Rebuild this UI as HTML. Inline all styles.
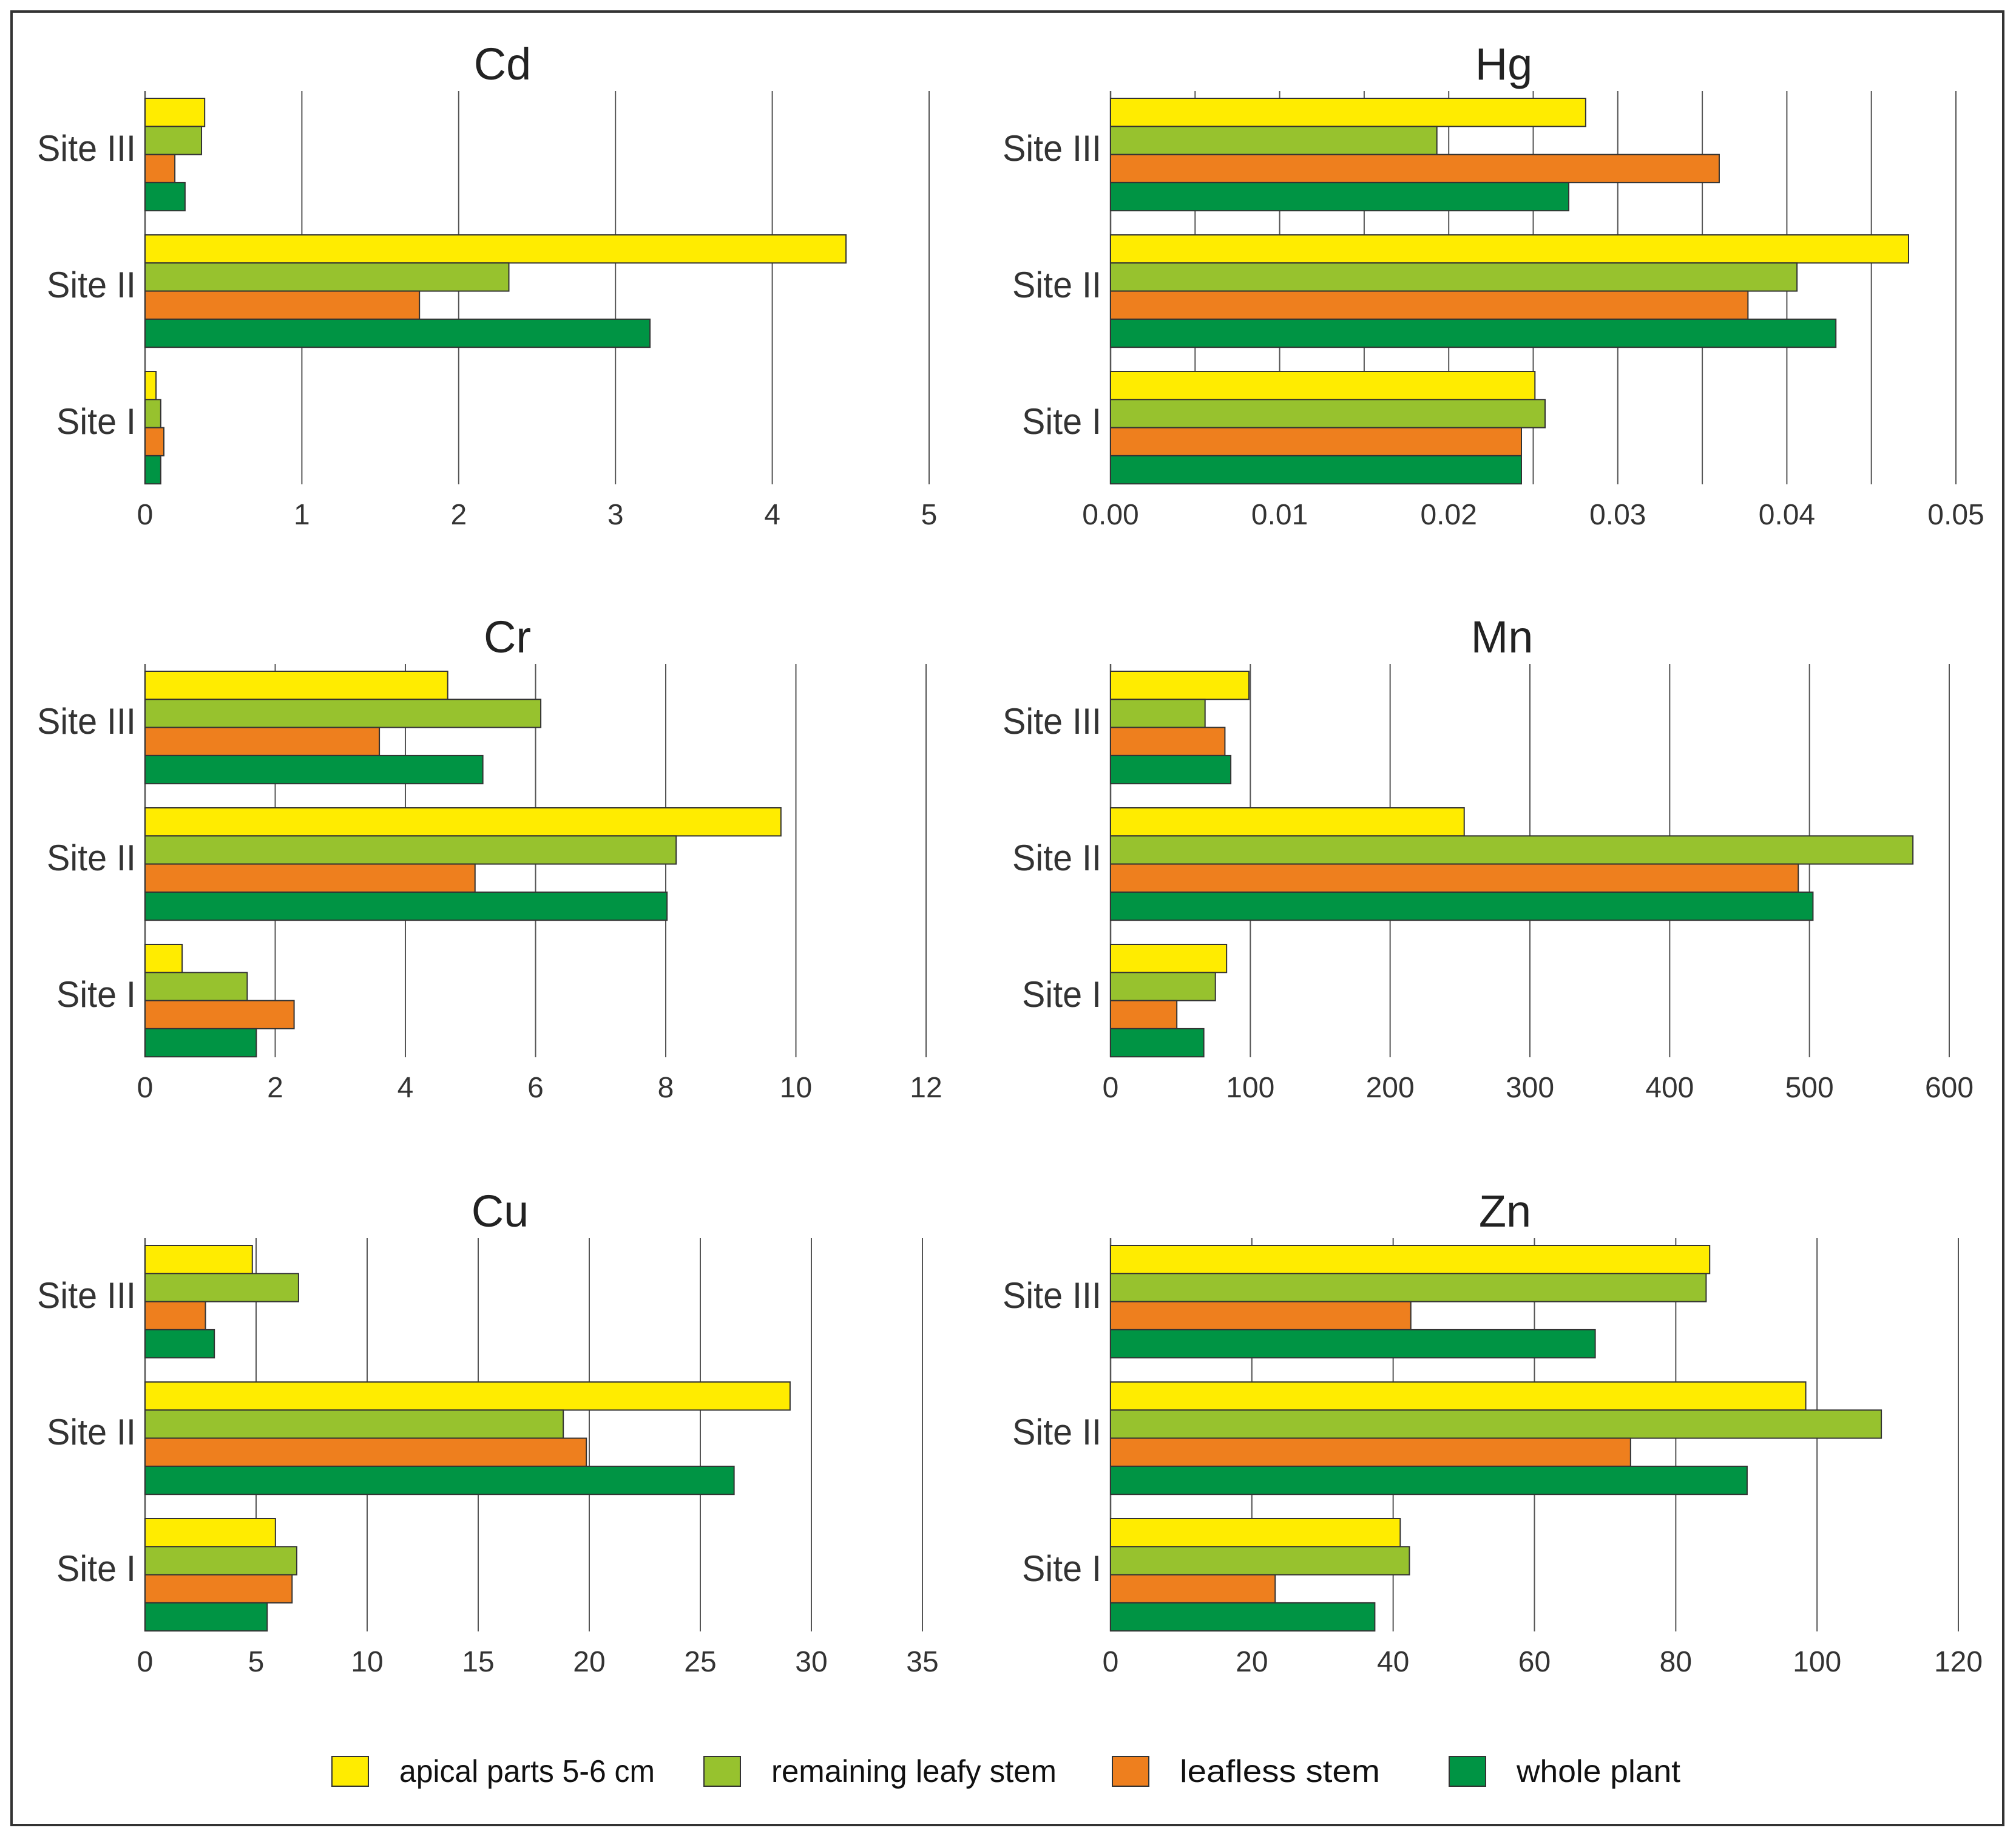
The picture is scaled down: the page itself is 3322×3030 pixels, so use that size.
<!DOCTYPE html>
<html><head><meta charset="utf-8"><style>
html,body{margin:0;padding:0;background:#fff;}
svg{display:block;font-family:"Liberation Sans",Arial,sans-serif;}
</style></head><body>
<svg id="fig" width="3322" height="3030" viewBox="0 0 3322 3030" xmlns="http://www.w3.org/2000/svg">
<rect x="19" y="19" width="3282" height="2988" fill="#fff" stroke="#333" stroke-width="4"/>
<g id="legend"></g>
</svg>
<script>
const sites = ["Site III","Site II","Site I"];
const seriesNames = ["apical parts 5-6 cm","remaining leafy stem","leafless stem","whole plant"];
const seriesColors = ["#FFEC00","#97C22E","#EE7F1E","#009444"];
// values per series: [Site III, Site II, Site I]
const cdApical = [0.38, 4.47, 0.07];
const cdLeafy = [0.36, 2.32, 0.10];
const cdLeafless = [0.19, 1.75, 0.12];
const cdWhole = [0.255, 3.22, 0.10];
const cdTicks = ["0","1","2","3","4","5"];
const hgApical = [0.0281, 0.0472, 0.0251];
const hgLeafy = [0.0193, 0.0406, 0.0257];
const hgLeafless = [0.0360, 0.0377, 0.0243];
const hgWhole = [0.0271, 0.0429, 0.0243];
const hgTicks = ["0.00","0.01","0.02","0.03","0.04","0.05"];
const crApical = [4.65, 9.77, 0.57];
const crLeafy = [6.08, 8.16, 1.57];
const crLeafless = [3.6, 5.07, 2.29];
const crWhole = [5.19, 8.02, 1.71];
const crTicks = ["0","2","4","6","8","10","12"];
const mnApical = [99, 253, 83];
const mnLeafy = [67.6, 574, 75];
const mnLeafless = [81.8, 492, 47.4];
const mnWhole = [86, 502.5, 66.7];
const mnTicks = ["0","100","200","300","400","500","600"];
const cuApical = [4.83, 29.04, 5.87];
const cuLeafy = [6.91, 18.83, 6.83];
const cuLeafless = [2.72, 19.87, 6.62];
const cuWhole = [3.12, 26.52, 5.5];
const cuTicks = ["0","5","10","15","20","25","30","35"];
const znApical = [84.8, 98.4, 41];
const znLeafy = [84.3, 109.1, 42.3];
const znLeafless = [42.5, 73.6, 23.3];
const znWhole = [68.6, 90.1, 37.4];
const znTicks = ["0","20","40","60","80","100","120"];

const NS = "http://www.w3.org/2000/svg";
const svg = document.getElementById("fig");
function mk(tag, attrs, parent){ const e=document.createElementNS(NS,tag); for(const k in attrs) e.setAttribute(k,attrs[k]); (parent||svg).appendChild(e); return e; }

const panels = [
 {title:"Cd", series:[cdApical,cdLeafy,cdLeafless,cdWhole], ticks:cdTicks, max:5, minor:false, x0:239, x1:1531, top:150, tx:828},
 {title:"Hg", series:[hgApical,hgLeafy,hgLeafless,hgWhole], ticks:hgTicks, max:0.05, minor:true, x0:1830, x1:3223, top:150, tx:2478},
 {title:"Cr", series:[crApical,crLeafy,crLeafless,crWhole], ticks:crTicks, max:12, minor:false, x0:239, x1:1526, top:1094, tx:836},
 {title:"Mn", series:[mnApical,mnLeafy,mnLeafless,mnWhole], ticks:mnTicks, max:600, minor:false, x0:1830, x1:3212, top:1094, tx:2475},
 {title:"Cu", series:[cuApical,cuLeafy,cuLeafless,cuWhole], ticks:cuTicks, max:35, minor:false, x0:239, x1:1520, top:2040, tx:824},
 {title:"Zn", series:[znApical,znLeafy,znLeafless,znWhole], ticks:znTicks, max:120, minor:false, x0:1830, x1:3227, top:2040, tx:2480}
];
const labelW = {"Site III":163,"Site II":147,"Site I":131};

panels.forEach(p=>{
  const g = mk("g",{});
  
  
  const bottom = p.top + 648;
  const xs = v => p.x0 + v/p.max*(p.x1-p.x0);
  const t = mk("text",{x:p.tx,y:p.top-19,"font-size":74,"text-anchor":"middle",fill:"#222"},g);
  t.textContent = p.title;
  
  
  // gridlines
  const nT = p.ticks.length-1;
  const steps = p.minor ? nT*2 : nT;
  for(let i=0;i<=steps;i++){
    const v = p.max*i/steps;
    const gl = mk("line",{x1:xs(v),x2:xs(v),y1:p.top,y2:bottom,stroke:"#555","stroke-width":i===0?2.5:2},g);
    
    
  }
  p.ticks.forEach((lab,i)=>{
    const v = p.max*i/nT;
    const tl = mk("text",{x:xs(v),y:bottom+66,"font-size":48,"text-anchor":"middle",fill:"#333"},g);
    tl.textContent = lab;
    
    
  });
  sites.forEach((s,si)=>{
    const gy = p.top + 12 + si*225;
    p.series.forEach((arr,k)=>{
      const b = mk("rect",{x:p.x0,y:gy+k*46.3,width:Math.max(0,xs(arr[si])-p.x0),height:46.3,fill:seriesColors[k],stroke:"#333","stroke-width":2},g);
      
      
    });
    const sl = mk("text",{x:p.x0-15,y:gy+92+11,"font-size":60,"text-anchor":"end",fill:"#333",textLength:labelW[s],lengthAdjust:"spacingAndGlyphs"},g);
    sl.textContent = s;
    
    
  });
});

const lg = document.getElementById("legend");
const legX = [547,1160,1833,2388];
const legW = [421,470,330,270];
seriesNames.forEach((n,i)=>{
  const r = mk("rect",{x:legX[i],y:2894,width:60,height:49,fill:seriesColors[i],stroke:"#333","stroke-width":2},lg);
  
  
  const tx = mk("text",{x:legX[i]+111,y:2936,"font-size":52,fill:"#111",textLength:legW[i],lengthAdjust:"spacingAndGlyphs"},lg);
  tx.textContent = n;
  
  
});
</script>
</body></html>
